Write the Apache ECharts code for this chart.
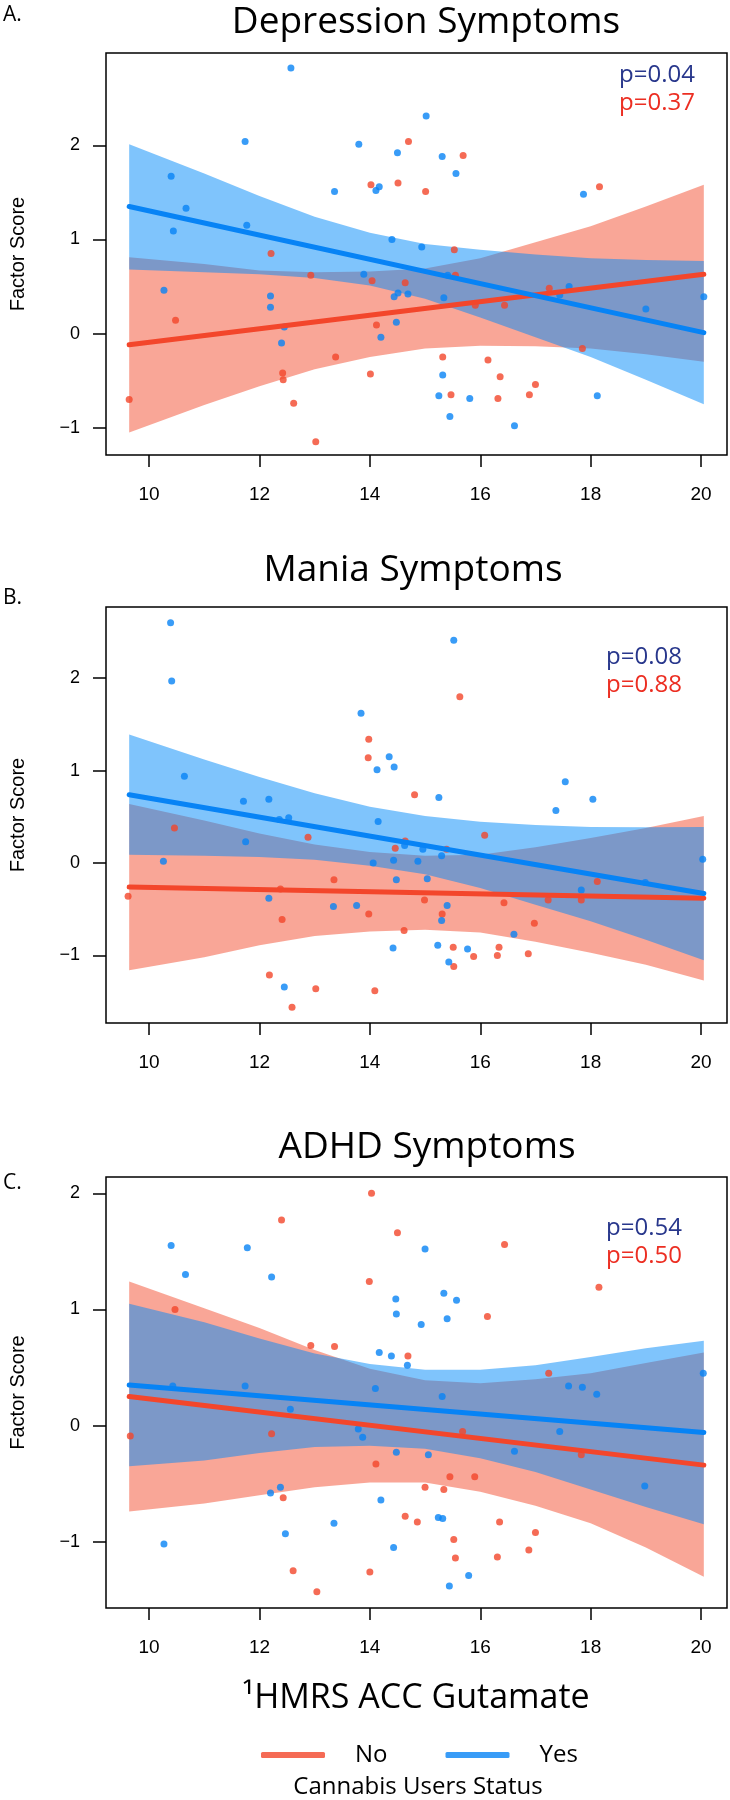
<!DOCTYPE html>
<html>
<head>
<meta charset="utf-8">
<title>ACC glutamate and symptom factor scores by cannabis use</title>
<script src="https://cdn.jsdelivr.net/npm/echarts@6.0.0/dist/echarts.min.js"></script>
<style>
  html, body { margin: 0; padding: 0; background: #fff; }
  #main { width: 730px; height: 1800px; }
</style>
</head>
<body>
<div id="main"></div>
<script>
// ---- values ----
var xTicks = [10, 12, 14, 16, 18, 20];
var yTicks = [-1, 0, 1, 2];
var bandX = [9.64, 11, 12, 13, 14, 15, 16, 17, 18, 19, 20.05];

// A. Depression
var depNoPts = [[14.70,2.04],[15.69,1.89],[14.02,1.58],[14.51,1.60],[15.01,1.51],[18.16,1.56],[12.21,0.85],[15.53,0.89],
  [12.93,0.62],[14.04,0.56],[14.64,0.54],[15.55,0.62],[10.48,0.14],[14.12,0.09],[17.25,0.48],[15.91,0.30],[16.44,0.30],
  [13.38,-0.25],[15.32,-0.25],[16.14,-0.28],[17.85,-0.16],[12.42,-0.42],[12.43,-0.49],[14.01,-0.43],[16.36,-0.46],
  [17.00,-0.54],[16.89,-0.65],[15.47,-0.65],[16.32,-0.69],[12.62,-0.74],[9.64,-0.70],[13.02,-1.15]];
var depYesPts = [[12.57,2.82],[11.74,2.04],[10.40,1.67],[10.67,1.33],[10.44,1.09],[11.77,1.15],[10.27,0.46],[12.20,0.40],
  [12.20,0.28],[12.40,-0.10],[12.45,0.07],[13.36,1.51],[13.80,2.01],[14.11,1.52],[14.17,1.56],[14.50,1.92],[15.02,2.31],
  [15.31,1.88],[15.56,1.70],[14.40,1.00],[14.94,0.92],[13.89,0.63],[14.44,0.39],[14.51,0.43],[14.69,0.42],[14.48,0.12],
  [14.20,-0.04],[15.34,0.38],[15.41,0.62],[17.61,0.50],[17.44,0.41],[17.87,1.48],[19.00,0.26],[20.05,0.39],[15.32,-0.44],
  [15.25,-0.66],[15.81,-0.69],[15.45,-0.88],[18.12,-0.66],[16.62,-0.98]];
var depNoFit = [[9.64,-0.12],[20.05,0.63]];
var depYesFit = [[9.64,1.35],[20.05,0.01]];
var depNoUpper = [0.81,0.74,0.67,0.65,0.66,0.69,0.80,0.97,1.14,1.35,1.58];
var depNoLower = [-1.05,-0.76,-0.56,-0.38,-0.25,-0.16,-0.13,-0.135,-0.16,-0.22,-0.30];
var depYesUpper = [2.01,1.70,1.46,1.24,1.07,0.95,0.89,0.84,0.80,0.78,0.77];
var depYesLower = [0.68,0.65,0.63,0.59,0.51,0.37,0.17,-0.04,-0.25,-0.49,-0.75];

// B. Mania
var maniaNoPts = [[15.63,1.80],[13.98,1.34],[13.97,1.14],[14.81,0.74],[10.46,0.38],[12.88,0.28],[16.08,0.30],[14.64,0.24],
  [14.46,0.16],[15.39,0.15],[9.62,-0.36],[12.38,-0.28],[12.41,-0.61],[13.35,-0.18],[13.98,-0.55],[14.99,-0.40],[15.31,-0.55],
  [14.62,-0.73],[16.43,-0.43],[16.98,-0.65],[17.23,-0.40],[17.83,-0.40],[18.12,-0.20],[15.51,-0.91],[15.88,-1.01],
  [16.31,-1.00],[16.34,-0.91],[16.87,-0.98],[15.52,-1.12],[12.18,-1.21],[13.02,-1.36],[14.09,-1.38],[12.59,-1.56]];
var maniaYesPts = [[10.39,2.60],[10.41,1.97],[15.52,2.41],[13.84,1.62],[14.35,1.15],[14.13,1.01],[14.44,1.04],[10.64,0.94],
  [15.25,0.71],[17.54,0.88],[18.04,0.69],[17.37,0.57],[11.71,0.67],[12.17,0.69],[12.53,0.49],[12.36,0.47],[14.15,0.45],
  [11.75,0.23],[14.63,0.19],[14.96,0.15],[15.30,0.08],[10.26,0.02],[14.06,0.00],[14.43,0.03],[14.87,0.02],[20.03,0.04],
  [12.17,-0.38],[14.48,-0.18],[15.04,-0.17],[13.34,-0.47],[13.76,-0.46],[15.30,-0.62],[15.40,-0.46],[16.61,-0.77],
  [17.83,-0.29],[18.99,-0.21],[14.42,-0.92],[15.23,-0.89],[15.77,-0.93],[15.43,-1.07],[12.45,-1.34]];
var maniaNoFit = [[9.64,-0.26],[20.05,-0.38]];
var maniaYesFit = [[9.64,0.74],[20.05,-0.33]];
var maniaNoUpper = [0.64,0.46,0.32,0.20,0.12,0.08,0.09,0.17,0.27,0.38,0.51];
var maniaNoLower = [-1.16,-1.02,-0.89,-0.79,-0.74,-0.72,-0.75,-0.85,-0.97,-1.10,-1.27];
var maniaYesUpper = [1.39,1.12,0.93,0.755,0.61,0.51,0.446,0.413,0.39,0.388,0.39];
var maniaYesLower = [0.09,0.08,0.067,0.035,-0.03,-0.12,-0.27,-0.45,-0.63,-0.83,-1.05];

// C. ADHD
var adhdNoPts = [[14.03,2.00],[12.40,1.77],[14.50,1.66],[16.44,1.56],[13.99,1.24],[18.15,1.19],[16.13,0.94],[10.47,1.00],
  [12.93,0.69],[13.36,0.68],[14.69,0.60],[17.24,0.45],[9.66,-0.09],[12.22,-0.07],[15.68,-0.05],[17.83,-0.25],[14.11,-0.33],
  [15.45,-0.44],[15.90,-0.44],[15.00,-0.53],[15.34,-0.55],[12.43,-0.62],[14.64,-0.78],[14.86,-0.83],[16.35,-0.83],
  [17.00,-0.92],[15.52,-0.98],[16.88,-1.07],[15.55,-1.14],[16.31,-1.13],[12.61,-1.25],[14.00,-1.26],[13.04,-1.43]];
var adhdYesPts = [[10.40,1.55],[11.78,1.53],[15.00,1.52],[10.66,1.30],[12.22,1.28],[15.34,1.14],[15.57,1.08],[14.47,1.09],
  [14.48,0.96],[15.40,0.92],[14.93,0.87],[14.17,0.63],[14.39,0.60],[14.68,0.52],[20.04,0.45],[10.43,0.34],[11.74,0.34],
  [14.10,0.32],[17.60,0.34],[17.85,0.33],[18.11,0.27],[15.31,0.25],[12.56,0.14],[13.79,-0.03],[13.87,-0.10],[17.44,-0.05],
  [14.48,-0.23],[15.06,-0.25],[16.62,-0.22],[18.98,-0.52],[12.20,-0.58],[12.38,-0.53],[14.20,-0.64],[15.24,-0.79],
  [15.32,-0.80],[13.35,-0.84],[12.47,-0.93],[14.43,-1.05],[10.27,-1.02],[15.79,-1.29],[15.44,-1.38]];
var adhdNoFit = [[9.64,0.25],[20.05,-0.34]];
var adhdYesFit = [[9.64,0.35],[20.05,-0.06]];
var adhdNoUpper = [1.24,1.01,0.84,0.65,0.49,0.39,0.365,0.40,0.45,0.54,0.63];
var adhdNoLower = [-0.74,-0.67,-0.60,-0.53,-0.49,-0.49,-0.57,-0.69,-0.84,-1.05,-1.30];
var adhdYesUpper = [1.05,0.89,0.75,0.62,0.53,0.48,0.48,0.52,0.59,0.665,0.73];
var adhdYesLower = [-0.35,-0.30,-0.236,-0.184,-0.174,-0.20,-0.28,-0.40,-0.55,-0.70,-0.85];

var titles = ['Depression Symptoms', 'Mania Symptoms', 'ADHD Symptoms'];
var letters = ['A.', 'B.', 'C.'];
var pYes = ['p=0.04', 'p=0.08', 'p=0.54'];
var pNo = ['p=0.37', 'p=0.88', 'p=0.50'];

// ---- styling / layout ----
var RED = '#f3462b', BLUE = '#0783f5';
var RED_BAND = 'rgba(243,77,47,0.5)', BLUE_BAND = 'rgba(0,137,250,0.5)';
var P_BLUE = '#28378c', P_RED = '#ec2e22';
var TITLE_FONT = '"Open Sans", "Liberation Sans", sans-serif';
var AXIS_FONT = '"Liberation Sans", Arial, sans-serif';

var panels = [
  { top: 53,   height: 402, ymin: -1.29, ymax: 2.98, noPts: depNoPts, yesPts: depYesPts, noFit: depNoFit, yesFit: depYesFit,
    noUp: depNoUpper, noLo: depNoLower, yesUp: depYesUpper, yesLo: depYesLower,
    titleX: 426, titleY: 22, letterY: 15, pX: 695, pY: 75 },
  { top: 607,  height: 416, ymin: -1.73, ymax: 2.77, noPts: maniaNoPts, yesPts: maniaYesPts, noFit: maniaNoFit, yesFit: maniaYesFit,
    noUp: maniaNoUpper, noLo: maniaNoLower, yesUp: maniaYesUpper, yesLo: maniaYesLower,
    titleX: 413, titleY: 570, letterY: 598, pX: 682, pY: 657 },
  { top: 1177, height: 431, ymin: -1.57, ymax: 2.14, noPts: adhdNoPts, yesPts: adhdYesPts, noFit: adhdNoFit, yesFit: adhdYesFit,
    noUp: adhdNoUpper, noLo: adhdNoLower, yesUp: adhdYesUpper, yesLo: adhdYesLower,
    titleX: 427, titleY: 1147, letterY: 1183, pX: 682, pY: 1228 }
];

// confidence band drawn as a polygon through the axis scales
function bandRenderer(upper, lower, fill) {
  return function (params, api) {
    var pts = [];
    for (var i = 0; i < bandX.length; i++) pts.push(api.coord([bandX[i], upper[i]]));
    for (var j = bandX.length - 1; j >= 0; j--) pts.push(api.coord([bandX[j], lower[j]]));
    return { type: 'polygon', shape: { points: pts }, style: { fill: fill } };
  };
}

var grids = [], xAxes = [], yAxes = [], series = [], graphics = [];

panels.forEach(function (p, k) {
  grids.push({ left: 106, right: 3, top: p.top, height: p.height, show: true,
    borderColor: '#000', borderWidth: 1.5, backgroundColor: 'transparent' });

  xAxes.push({
    gridIndex: k, type: 'value', min: 9.22, max: 20.47, position: 'bottom',
    axisLine: { show: false, onZero: false }, splitLine: { show: false },
    axisTick: { show: true, length: 12, customValues: xTicks, lineStyle: { color: '#000', width: 1.5 } },
    axisLabel: { customValues: xTicks, margin: 30, fontSize: 19, color: '#000', fontFamily: AXIS_FONT }
  });
  yAxes.push({
    gridIndex: k, type: 'value', min: p.ymin, max: p.ymax, position: 'left',
    name: 'Factor Score', nameLocation: 'middle', nameGap: 78,
    nameTextStyle: { fontSize: 20, color: '#000', fontFamily: AXIS_FONT },
    axisLine: { show: false, onZero: false }, splitLine: { show: false },
    axisTick: { show: true, length: 13, customValues: yTicks, lineStyle: { color: '#000', width: 1.5 } },
    axisLabel: { customValues: yTicks, margin: 26, fontSize: 18, color: '#000', fontFamily: AXIS_FONT,
      formatter: function (v) { return v < 0 ? '\u2212' + Math.abs(v) : String(v); } }
  });

  // bands first, then points, then fitted lines
  series.push({ type: 'custom', xAxisIndex: k, yAxisIndex: k, z: 1, silent: true,
    renderItem: bandRenderer(p.noUp, p.noLo, RED_BAND), data: [[bandX[0], p.noUp[0]]] });
  series.push({ type: 'custom', xAxisIndex: k, yAxisIndex: k, z: 1, silent: true,
    renderItem: bandRenderer(p.yesUp, p.yesLo, BLUE_BAND), data: [[bandX[0], p.yesUp[0]]] });

  series.push({ name: 'No', type: 'scatter', xAxisIndex: k, yAxisIndex: k, z: 2,
    symbolSize: 7, itemStyle: { color: RED }, data: p.noPts });
  series.push({ name: 'Yes', type: 'scatter', xAxisIndex: k, yAxisIndex: k, z: 2,
    symbolSize: 7, itemStyle: { color: BLUE }, data: p.yesPts });

  series.push({ name: 'No', type: 'line', xAxisIndex: k, yAxisIndex: k, z: 3, symbol: 'none',
    lineStyle: { color: RED, width: 5, cap: 'round' }, itemStyle: { color: RED }, data: p.noFit });
  series.push({ name: 'Yes', type: 'line', xAxisIndex: k, yAxisIndex: k, z: 3, symbol: 'none',
    lineStyle: { color: BLUE, width: 5, cap: 'round' }, itemStyle: { color: BLUE }, data: p.yesFit });

  graphics.push({ type: 'text', x: 3, y: p.letterY,
    style: { text: letters[k], font: '21px ' + TITLE_FONT, fill: '#000', align: 'left', verticalAlign: 'middle' } });
  graphics.push({ type: 'text', x: p.titleX, y: p.titleY,
    style: { text: titles[k], font: '37px ' + TITLE_FONT, fill: '#000', align: 'center', verticalAlign: 'middle' } });
  graphics.push({ type: 'text', x: p.pX, y: p.pY,
    style: { text: pYes[k], font: '24px ' + TITLE_FONT, fill: P_BLUE, align: 'right', verticalAlign: 'middle' } });
  graphics.push({ type: 'text', x: p.pX, y: p.pY + 28,
    style: { text: pNo[k], font: '24px ' + TITLE_FONT, fill: P_RED, align: 'right', verticalAlign: 'middle' } });
});

graphics.push({ type: 'text', x: 416, y: 1698,
  style: { text: '\u00b9HMRS ACC Gutamate', font: '34px ' + TITLE_FONT, fill: '#000', align: 'center', verticalAlign: 'middle' } });
graphics.push({ type: 'text', x: 418, y: 1787,
  style: { text: 'Cannabis Users Status', font: '24px ' + TITLE_FONT, fill: '#000', align: 'center', verticalAlign: 'middle' } });

var myChart = echarts.init(document.getElementById('main'), null, { renderer: 'canvas' });

var option = {
  backgroundColor: '#fff',
  animation: false,
  grid: grids,
  xAxis: xAxes,
  yAxis: yAxes,
  legend: {
    left: 256, top: 1738, itemWidth: 64, itemHeight: 6, itemGap: 58,
    data: [{ name: 'No', icon: 'roundRect' }, { name: 'Yes', icon: 'roundRect' }],
    textStyle: { fontSize: 24, color: '#000', fontFamily: TITLE_FONT, padding: [0, 0, 0, 25] }
  },
  series: series,
  graphic: graphics
};

myChart.setOption(option);
window.onresize = myChart.resize;
</script>
</body>
</html>
